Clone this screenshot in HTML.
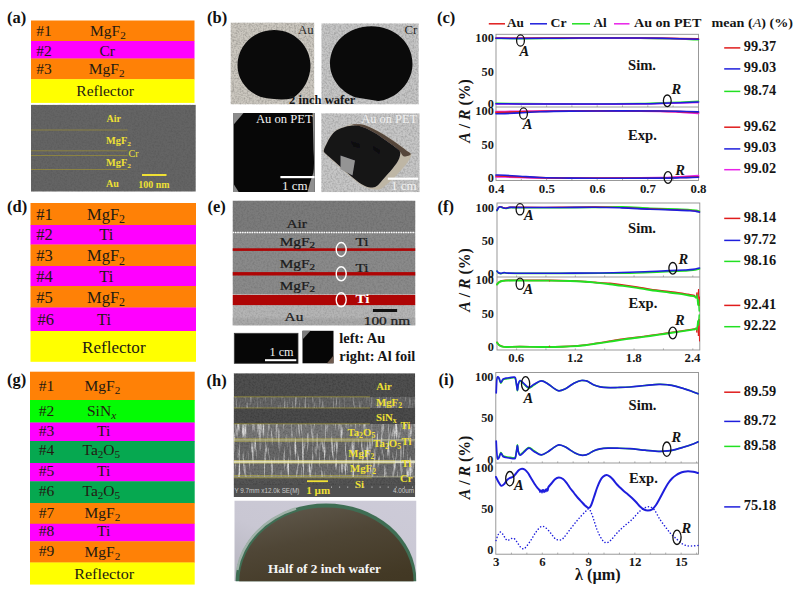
<!DOCTYPE html>
<html lang="en"><head><meta charset="utf-8"><title>Figure: multilayer absorbers</title>
<style>
html,body{margin:0;padding:0;background:#fff;}
body{width:799px;height:593px;overflow:hidden;}
#fig{width:799px;height:593px;overflow:hidden;}
svg{display:block;font-family:"Liberation Serif", "DejaVu Serif", serif;}
</style></head>
<body>
<div id="fig">
<svg width="799" height="593" viewBox="0 0 799 593">
<rect width="799" height="593" fill="#ffffff"/>
<text x="7" y="22.5" font-size="16.5" font-weight="bold" fill="#111">(a)</text>
<text x="207" y="22.5" font-size="16.5" font-weight="bold" fill="#111">(b)</text>
<text x="437" y="22.5" font-size="16.5" font-weight="bold" fill="#111">(c)</text>
<text x="7" y="211.5" font-size="16.5" font-weight="bold" fill="#111">(d)</text>
<text x="207.5" y="212" font-size="16.5" font-weight="bold" fill="#111">(e)</text>
<text x="437.5" y="212" font-size="16.5" font-weight="bold" fill="#111">(f)</text>
<text x="7" y="385" font-size="16.5" font-weight="bold" fill="#111">(g)</text>
<text x="206.5" y="385.5" font-size="16.5" font-weight="bold" fill="#111">(h)</text>
<text x="438.5" y="385" font-size="16.5" font-weight="bold" fill="#111">(i)</text>
<rect x="31" y="20.5" width="163.5" height="20.80" fill="#ff8106"/>
<rect x="31" y="41" width="163.5" height="17.80" fill="#ff00ff"/>
<rect x="31" y="58.5" width="163.5" height="21.00" fill="#ff8106"/>
<rect x="31" y="79.2" width="163.5" height="23.70" fill="#ffff00"/>
<text x="36.3" y="36.3" font-size="15.5" fill="#231a12">#1</text>
<text x="90" y="36.2" font-size="15.5" fill="#231a12">MgF<tspan dy="0.27em" font-size="72%">2</tspan></text>
<text x="36.3" y="55.5" font-size="15.5" fill="#231a12">#2</text>
<text x="99.5" y="55.5" font-size="15.5" fill="#231a12">Cr</text>
<text x="36.3" y="73.8" font-size="15.5" fill="#231a12">#3</text>
<text x="88.8" y="74" font-size="15.5" fill="#231a12">MgF<tspan dy="0.27em" font-size="72%">2</tspan></text>
<text x="76.3" y="95.5" font-size="15.5" fill="#231a12">Reflector</text>
<rect x="30.5" y="203" width="165.5" height="22.30" fill="#ff8106"/>
<rect x="30.5" y="225" width="165.5" height="19.80" fill="#ff00ff"/>
<rect x="30.5" y="244.5" width="165.5" height="21.80" fill="#ff8106"/>
<rect x="30.5" y="266" width="165.5" height="20.30" fill="#ff00ff"/>
<rect x="30.5" y="286" width="165.5" height="21.80" fill="#ff8106"/>
<rect x="30.5" y="307.5" width="165.5" height="23.80" fill="#ff00ff"/>
<rect x="30.5" y="331" width="165.5" height="30.80" fill="#ffff00"/>
<text x="36.3" y="219.5" font-size="16.5" fill="#231a12">#1</text>
<text x="87" y="219.5" font-size="16.5" fill="#231a12">MgF<tspan dy="0.27em" font-size="72%">2</tspan></text>
<text x="36.3" y="240" font-size="16.5" fill="#231a12">#2</text>
<text x="99.3" y="240" font-size="16.5" fill="#231a12">Ti</text>
<text x="36.3" y="261.3" font-size="16.5" fill="#231a12">#3</text>
<text x="87" y="261.3" font-size="16.5" fill="#231a12">MgF<tspan dy="0.27em" font-size="72%">2</tspan></text>
<text x="36.3" y="282" font-size="16.5" fill="#231a12">#4</text>
<text x="99.3" y="282" font-size="16.5" fill="#231a12">Ti</text>
<text x="36.3" y="302.5" font-size="16.5" fill="#231a12">#5</text>
<text x="87" y="302.5" font-size="16.5" fill="#231a12">MgF<tspan dy="0.27em" font-size="72%">2</tspan></text>
<text x="37.5" y="325" font-size="16.5" fill="#231a12">#6</text>
<text x="97" y="325" font-size="16.5" fill="#231a12">Ti</text>
<text x="82" y="352.5" font-size="17.1" fill="#231a12">Reflector</text>
<rect x="30" y="371.7" width="164.7" height="28.60" fill="#ff8106"/>
<rect x="30" y="400" width="164.7" height="22.80" fill="#04fb04"/>
<rect x="30" y="422.5" width="164.7" height="18.80" fill="#ff00ff"/>
<rect x="30" y="441" width="164.7" height="22.30" fill="#06a850"/>
<rect x="30" y="463" width="164.7" height="18.55" fill="#ff00ff"/>
<rect x="30" y="481.25" width="164.7" height="22.05" fill="#06a850"/>
<rect x="30" y="503" width="164.7" height="21.05" fill="#ff8106"/>
<rect x="30" y="523.75" width="164.7" height="17.80" fill="#ff00ff"/>
<rect x="30" y="541.25" width="164.7" height="21.55" fill="#ff8106"/>
<rect x="30" y="562.5" width="164.7" height="22.05" fill="#ffff00"/>
<text x="38.7" y="391.3" font-size="15.5" fill="#231a12">#1</text>
<text x="84.5" y="391" font-size="15.5" fill="#231a12">MgF<tspan dy="0.27em" font-size="72%">2</tspan></text>
<text x="38.7" y="416.3" font-size="15.5" fill="#231a12">#2</text>
<text x="87" y="416" font-size="15.5" fill="#231a12">SiN<tspan dy="0.27em" font-size="72%" font-style="italic">x</tspan></text>
<text x="38.7" y="436.3" font-size="15.5" fill="#231a12">#3</text>
<text x="97" y="436.3" font-size="15.5" fill="#231a12">Ti</text>
<text x="38.7" y="455.3" font-size="15.5" fill="#231a12">#4</text>
<text x="82.5" y="455.3" font-size="15.5" fill="#231a12">Ta<tspan dy="0.27em" font-size="72%">2</tspan><tspan dy="-0.194em">O</tspan><tspan dy="0.27em" font-size="72%">5</tspan></text>
<text x="38.7" y="476.3" font-size="15.5" fill="#231a12">#5</text>
<text x="97" y="476.3" font-size="15.5" fill="#231a12">Ti</text>
<text x="38.7" y="495.8" font-size="15.5" fill="#231a12">#6</text>
<text x="82.5" y="495.8" font-size="15.5" fill="#231a12">Ta<tspan dy="0.27em" font-size="72%">2</tspan><tspan dy="-0.194em">O</tspan><tspan dy="0.27em" font-size="72%">5</tspan></text>
<text x="38.7" y="517.5" font-size="15.5" fill="#231a12">#7</text>
<text x="84.5" y="517.5" font-size="15.5" fill="#231a12">MgF<tspan dy="0.27em" font-size="72%">2</tspan></text>
<text x="38.7" y="536.3" font-size="15.5" fill="#231a12">#8</text>
<text x="97" y="536.3" font-size="15.5" fill="#231a12">Ti</text>
<text x="38.7" y="556.3" font-size="15.5" fill="#231a12">#9</text>
<text x="84.5" y="557" font-size="15.5" fill="#231a12">MgF<tspan dy="0.27em" font-size="72%">2</tspan></text>
<text x="0" y="0" font-size="15.5" fill="#231a12" transform="translate(74.2,578.8) scale(1.04,1)">Reflector</text>
<defs>
<filter id="grain" x="0" y="0" width="100%" height="100%">
  <feTurbulence type="fractalNoise" baseFrequency="0.55" numOctaves="3" seed="3" result="n"/>
  <feColorMatrix in="n" type="matrix" values="0 0 0 0 0  0 0 0 0 0  0 0 0 0 0  2.2 0 0 0 -0.85"/>
</filter>
<filter id="grainL" x="0" y="0" width="100%" height="100%">
  <feTurbulence type="fractalNoise" baseFrequency="0.8" numOctaves="2" seed="11" result="n"/>
  <feColorMatrix in="n" type="matrix" values="0 0 0 0 1  0 0 0 0 1  0 0 0 0 1  1.6 0 0 0 -0.62"/>
</filter>
<filter id="streak" x="0" y="0" width="100%" height="100%">
  <feTurbulence type="fractalNoise" baseFrequency="0.42 0.05" numOctaves="2" seed="7" result="n"/>
  <feColorMatrix in="n" type="matrix" values="0 0 0 0 1  0 0 0 0 1  0 0 0 0 1  3.6 0 0 0 -1.85"/>
</filter>
<filter id="blur1"><feGaussianBlur stdDeviation="0.6"/></filter>
<filter id="blur2"><feGaussianBlur stdDeviation="1.2"/></filter>
<linearGradient id="waferG" x1="0" y1="0" x2="0.25" y2="1">
  <stop offset="0" stop-color="#625b4f"/><stop offset="0.3" stop-color="#4f4636"/><stop offset="0.62" stop-color="#433925"/><stop offset="1" stop-color="#3c321d"/>
</linearGradient>
<linearGradient id="waferBg" x1="0" y1="1" x2="1" y2="0">
  <stop offset="0" stop-color="#b4b3bd"/><stop offset="0.4" stop-color="#c9c7d3"/><stop offset="1" stop-color="#cdcbd8"/>
</linearGradient>
<clipPath id="cpAu"><rect x="230.5" y="22.5" width="83.8" height="82"/></clipPath>
<clipPath id="cpCr"><rect x="321.3" y="23.3" width="97.5" height="81.2"/></clipPath>
<clipPath id="cpP3"><rect x="233.3" y="113" width="81.5" height="79"/></clipPath>
<clipPath id="cpP4"><rect x="321.2" y="113.2" width="98.5" height="79"/></clipPath>
<clipPath id="cpW"><rect x="234.3" y="500.5" width="182.2" height="80.8"/></clipPath>
<clipPath id="cpH"><rect x="233.7" y="373.2" width="181.5" height="123.8"/></clipPath>
<clipPath id="cpE"><rect x="232.5" y="200.5" width="183" height="125"/></clipPath>
</defs>
<rect x="31" y="104.9" width="164.7" height="86.6" fill="#646464"/>
<rect x="31" y="104.9" width="164.7" height="86.6" fill="#000" opacity="0.08" filter="url(#grain)"/>
<line x1="31" y1="130" x2="127.5" y2="130" stroke="#a8982e" stroke-width="0.6"/>
<line x1="31" y1="150.8" x2="127.5" y2="150.8" stroke="#a8982e" stroke-width="0.6"/>
<line x1="31" y1="155.5" x2="127.5" y2="155.5" stroke="#a8982e" stroke-width="0.6"/>
<line x1="31" y1="169.5" x2="127.5" y2="169.5" stroke="#a8982e" stroke-width="0.6"/>
<text x="0" y="0" font-size="9.4" font-weight="bold" fill="#efe034" transform="translate(106.5,122) scale(1.07,1)">Air</text>
<text x="0" y="0" font-size="9.4" font-weight="bold" fill="#efe034" transform="translate(106,143.8) scale(1.1,1)">MgF<tspan dy="0.27em" font-size="72%">2</tspan></text>
<text x="128.5" y="157" font-size="10" fill="#efe034">Cr</text>
<text x="0" y="0" font-size="9.4" font-weight="bold" fill="#efe034" transform="translate(106,165.8) scale(1.1,1)">MgF<tspan dy="0.27em" font-size="72%">2</tspan></text>
<text x="0" y="0" font-size="9.4" font-weight="bold" fill="#efe034" transform="translate(106,187) scale(1.07,1)">Au</text>
<rect x="142" y="174" width="24.5" height="2" fill="#efe034"/>
<text x="0" y="0" font-size="9.4" font-weight="bold" fill="#efe034" transform="translate(138.3,187.5) scale(1.06,1)">100 nm</text>
<g clip-path="url(#cpAu)">
<rect x="230.5" y="22.5" width="84" height="82" fill="#cbc7bf"/>
<rect x="230.5" y="22.5" width="84" height="82" fill="#000" opacity="0.2" filter="url(#grain)"/>
<path d="M274,30 C294.5,30 310.5,46 310.5,65.5 C310.5,79 303,91.5 292.5,98.2 Q284,100.2 274,99 Q263,98.3 258,95.8 C245.5,90 237.5,78.5 237.5,65.5 C237.5,46 253.5,30 274,30z" fill="#0a0a0a"/>
</g>
<text x="298" y="33.8" font-size="12.8" fill="#2a2a2a">Au</text>
<g clip-path="url(#cpCr)">
<rect x="321.3" y="23.3" width="97.5" height="81.2" fill="#c5c5c5"/>
<rect x="321.3" y="23.3" width="97.5" height="81.2" fill="#000" opacity="0.17" filter="url(#grain)"/>
<path d="M371.3,26.3 C395,26.3 412.5,43 412.5,63.8 C412.5,79 402.5,92.5 388,98.6 Q383,101.2 378,101 L355,97.3 C340.5,91.5 330,78.5 330,63.8 C330,43 347.5,26.3 371.3,26.3z" fill="#0a0a0a"/>
</g>
<text x="404.5" y="33.8" font-size="12.8" fill="#2a2a2a">Cr</text>
<text x="289" y="103.6" font-size="12.6" font-weight="bold" fill="#161616">2 inch wafer</text>
<g clip-path="url(#cpP3)">
<rect x="233.3" y="113" width="81.5" height="79" fill="#070707"/>
<path d="M233.3,113 L243.5,113 L233.3,125z" fill="#8c8c8c"/>
<path d="M233.3,183.5 L238.7,192 L233.3,192z" fill="#8a8a8a"/>
<path d="M312.6,113 L314.8,113 L314.8,192 L307.5,192 Q309.5,183 313.3,173 Q314.6,165 313.5,150z" fill="#8e8e8e"/>
</g>
<text x="256" y="123.2" font-size="12.6" fill="#f4f4f4">Au on PET</text>
<rect x="280.4" y="176" width="34.2" height="2.2" fill="#fff"/>
<text x="282" y="190" font-size="13" fill="#f2f2f2">1 cm</text>
<g clip-path="url(#cpP4)">
<rect x="321.2" y="113.2" width="98.5" height="79" fill="#c6c6c6"/>
<rect x="321.2" y="113.2" width="98.5" height="79" fill="#000" opacity="0.16" filter="url(#grain)"/>
<g filter="url(#blur1)">
<path d="M323.30,150.50 C323.45,148.57 325.38,145.45 326.60,143.00 C327.82,140.55 329.03,137.97 330.60,135.80 C332.17,133.63 333.60,131.57 336.00,130.00 C338.40,128.43 342.33,127.35 345.00,126.40 C347.67,125.45 349.17,124.65 352.00,124.30 C354.83,123.95 358.67,123.68 362.00,124.30 C365.33,124.92 368.33,126.30 372.00,128.00 C375.67,129.70 380.00,132.08 384.00,134.50 C388.00,136.92 392.33,139.92 396.00,142.50 C399.67,145.08 403.45,148.03 406.00,150.00 C408.55,151.97 410.80,152.63 411.30,154.30 C411.80,155.97 410.05,158.13 409.00,160.00 C407.95,161.87 406.67,163.42 405.00,165.50 C403.33,167.58 401.08,170.20 399.00,172.50 C396.92,174.80 394.67,177.22 392.50,179.30 C390.33,181.38 388.08,183.33 386.00,185.00 C383.92,186.67 382.17,188.60 380.00,189.30 C377.83,190.00 375.50,189.60 373.00,189.20 C370.50,188.80 367.72,188.13 365.00,186.90 C362.28,185.67 360.08,184.32 356.70,181.80 C353.32,179.28 348.53,175.13 344.70,171.80 C340.87,168.47 336.87,164.67 333.70,161.80 C330.53,158.93 327.43,156.48 325.70,154.60 C323.97,152.72 323.15,152.43 323.30,150.50z" fill="#beb6a5"/>
<path d="M352.00,124.60 C353.17,124.43 358.67,124.00 362.00,124.60 C365.33,125.20 368.33,126.50 372.00,128.20 C375.67,129.90 380.00,132.37 384.00,134.80 C388.00,137.23 392.33,140.23 396.00,142.80 C399.67,145.37 403.53,148.30 406.00,150.20 C408.47,152.10 411.13,153.15 410.80,154.20 C410.47,155.25 405.80,156.90 404.00,156.50 C402.20,156.10 401.50,153.38 400.00,151.80 C398.50,150.22 397.33,148.88 395.00,147.00 C392.67,145.12 389.33,142.83 386.00,140.50 C382.67,138.17 378.67,135.17 375.00,133.00 C371.33,130.83 367.33,128.73 364.00,127.50 C360.67,126.27 357.00,126.08 355.00,125.60 C353.00,125.12 350.83,124.77 352.00,124.60z" fill="#56463a"/>
<path d="M323.80,150.50 C323.97,148.67 325.80,145.42 327.00,143.00 C328.20,140.58 329.45,138.08 331.00,136.00 C332.55,133.92 333.97,132.00 336.30,130.50 C338.63,129.00 341.88,127.82 345.00,127.00 C348.12,126.18 351.83,125.50 355.00,125.60 C358.17,125.70 360.67,126.35 364.00,127.60 C367.33,128.85 371.33,130.93 375.00,133.10 C378.67,135.27 382.67,138.27 386.00,140.60 C389.33,142.93 392.67,145.23 395.00,147.10 C397.33,148.97 399.23,150.15 400.00,151.80 C400.77,153.45 400.02,155.33 399.60,157.00 C399.18,158.67 398.60,159.97 397.50,161.80 C396.40,163.63 394.67,165.92 393.00,168.00 C391.33,170.08 389.33,172.22 387.50,174.30 C385.67,176.38 383.67,178.63 382.00,180.50 C380.33,182.37 379.08,184.33 377.50,185.50 C375.92,186.67 374.58,187.42 372.50,187.50 C370.42,187.58 367.58,187.08 365.00,186.00 C362.42,184.92 360.33,183.50 357.00,181.00 C353.67,178.50 348.83,174.33 345.00,171.00 C341.17,167.67 337.17,163.83 334.00,161.00 C330.83,158.17 327.70,155.75 326.00,154.00 C324.30,152.25 323.63,152.33 323.80,150.50z" fill="#131219"/>
<path d="M340.5,155.5 L355,160.5 L352.5,175.5 L340.5,169.3z" fill="#949494"/>
<path d="M351,141.5 L359,144 L360,147.5 L354,146.8z" fill="#000" opacity="0.55"/>
<path d="M373,146 L380,150.5 L379,153.5 L374,150z" fill="#000" opacity="0.45"/>
</g>
</g>
<text x="361.3" y="123.2" font-size="12.4" fill="#f0f0f0">Au on PET</text>
<rect x="387.8" y="177.6" width="30.4" height="2.2" fill="#fff"/>
<text x="391" y="190" font-size="13" fill="#f2f2f2">1 cm</text>
<g clip-path="url(#cpE)">
<rect x="232.5" y="200.5" width="183" height="32" fill="#7b7b7b"/>
<rect x="232.5" y="232.5" width="183" height="62" fill="#8a8a8a"/>
<rect x="232.5" y="304.5" width="183" height="21" fill="#b4b4b4"/>
<rect x="232.5" y="318" width="183" height="8" fill="#a8a8a8" filter="url(#blur2)"/>
<rect x="232.5" y="200.5" width="183" height="125" fill="#000" opacity="0.10" filter="url(#grain)"/>
<rect x="232.5" y="248.3" width="183" height="2.6" fill="#ae0404"/>
<rect x="232.5" y="272.1" width="183" height="3.4" fill="#ae0404"/>
<rect x="232.5" y="294.9" width="183" height="10.2" fill="#ae0404"/>
<line x1="232.5" y1="232.5" x2="415.5" y2="232.5" stroke="#fff" stroke-width="1.5" stroke-dasharray="1.4 1.0"/>
</g>
<ellipse cx="341.2" cy="249.5" rx="5" ry="7" fill="none" stroke="#fff" stroke-width="1.4"/>
<ellipse cx="341.2" cy="273.8" rx="5" ry="7" fill="none" stroke="#fff" stroke-width="1.4"/>
<ellipse cx="341.2" cy="299.8" rx="5" ry="7" fill="none" stroke="#fff" stroke-width="1.4"/>
<text x="0" y="0" font-size="12.2" fill="#1c1c1c" stroke="#1c1c1c" stroke-width="0.25" transform="translate(286.5,227.6) scale(1.26,1)">Air</text>
<text x="0" y="0" font-size="12.2" fill="#1c1c1c" stroke="#1c1c1c" stroke-width="0.25" transform="translate(279.7,246) scale(1.26,1)">MgF<tspan dy="0.27em" font-size="72%">2</tspan></text>
<text x="0" y="0" font-size="12.2" fill="#1c1c1c" stroke="#1c1c1c" stroke-width="0.25" transform="translate(355.4,246.4) scale(1.26,1)">Ti</text>
<text x="0" y="0" font-size="12.2" fill="#1c1c1c" stroke="#1c1c1c" stroke-width="0.25" transform="translate(279.7,267.8) scale(1.26,1)">MgF<tspan dy="0.27em" font-size="72%">2</tspan></text>
<text x="0" y="0" font-size="12.2" fill="#1c1c1c" stroke="#1c1c1c" stroke-width="0.25" transform="translate(355.4,271.7) scale(1.26,1)">Ti</text>
<text x="0" y="0" font-size="12.2" fill="#1c1c1c" stroke="#1c1c1c" stroke-width="0.25" transform="translate(279.7,289.7) scale(1.26,1)">MgF<tspan dy="0.27em" font-size="72%">2</tspan></text>
<text x="0" y="0" font-size="12.2" font-weight="bold" fill="#fff" transform="translate(355.4,302.7) scale(1.26,1)">Ti</text>
<text x="0" y="0" font-size="12.2" fill="#1c1c1c" stroke="#1c1c1c" stroke-width="0.25" transform="translate(284.6,320.8) scale(1.26,1)">Au</text>
<rect x="372.9" y="309" width="24.2" height="3" fill="#111"/>
<text x="0" y="0" font-size="12.2" fill="#1c1c1c" stroke="#1c1c1c" stroke-width="0.25" transform="translate(363.7,324.6) scale(1.26,1)">100 nm</text>
<rect x="234.3" y="333.3" width="63.7" height="30" fill="#060606"/>
<rect x="234.3" y="333.3" width="63.7" height="30" fill="none" stroke="#3a3a3a" stroke-width="0.8"/>
<rect x="265" y="359.2" width="31.3" height="2" fill="#fff"/>
<text x="269.5" y="355.5" font-size="12.2" fill="#f0f0f0">1 cm</text>
<rect x="302.5" y="330.8" width="31" height="32.5" fill="#060606"/>
<path d="M302.5,330.8 L310.5,330.8 L302.5,339.5z" fill="#7c7c7c"/>
<path d="M333.5,355.5 L333.5,363.3 L327,363.3z" fill="#6e5a4e"/>
<text x="339.3" y="343.3" font-size="14.4" font-weight="bold" fill="#151515">left: Au</text>
<text x="339.3" y="360.8" font-size="14.4" font-weight="bold" fill="#151515">right: Al foil</text>
<g clip-path="url(#cpH)">
<rect x="233.7" y="373.2" width="181.5" height="123.8" fill="#4f4f4f"/>
<rect x="233.7" y="397" width="181.5" height="11" fill="#656565"/>
<rect x="233.7" y="408" width="181.5" height="16" fill="#4b4b4b"/>
<rect x="233.7" y="424" width="181.5" height="16" fill="#777777"/>
<rect x="233.7" y="440" width="181.5" height="22" fill="#686868"/>
<rect x="233.7" y="462" width="181.5" height="15" fill="#6e6e6e"/>
<rect x="233.7" y="477" width="181.5" height="7.5" fill="#555555"/>
<rect x="233.7" y="484.5" width="181.5" height="12.5" fill="#505050"/>
<rect x="233.7" y="397" width="181.5" height="11" fill="#fff" opacity="0.4" filter="url(#streak)"/>
<rect x="233.7" y="424" width="181.5" height="53" fill="#fff" opacity="0.75" filter="url(#streak)"/>
<rect x="233.7" y="373.2" width="181.5" height="111" fill="#000" opacity="0.18" filter="url(#grain)"/>
<rect x="233.7" y="439" width="181.5" height="2.4" fill="#c9c9a0" opacity="0.5" filter="url(#blur1)"/>
<rect x="233.7" y="460.4" width="181.5" height="2.8" fill="#efefcf" opacity="0.85" filter="url(#blur1)"/>
<rect x="233.7" y="475.8" width="181.5" height="1.8" fill="#bdbd98" opacity="0.45" filter="url(#blur1)"/>
<line x1="233.7" y1="396.8" x2="370" y2="396.8" stroke="#cfc030" stroke-width="0.55" opacity="0.85"/>
<line x1="233.7" y1="408" x2="370" y2="408" stroke="#cfc030" stroke-width="0.55" opacity="0.85"/>
<line x1="233.7" y1="423.8" x2="370" y2="423.8" stroke="#cfc030" stroke-width="0.55" opacity="0.85"/>
<line x1="233.7" y1="438.8" x2="372" y2="438.8" stroke="#cfc030" stroke-width="0.55" opacity="0.85"/>
<line x1="233.7" y1="441.2" x2="372" y2="441.2" stroke="#cfc030" stroke-width="0.55" opacity="0.85"/>
<line x1="233.7" y1="460.4" x2="395" y2="460.4" stroke="#cfc030" stroke-width="0.55" opacity="0.85"/>
<line x1="233.7" y1="463" x2="395" y2="463" stroke="#cfc030" stroke-width="0.55" opacity="0.85"/>
<line x1="233.7" y1="475.6" x2="372" y2="475.6" stroke="#cfc030" stroke-width="0.55" opacity="0.85"/>
<line x1="233.7" y1="477.8" x2="372" y2="477.8" stroke="#cfc030" stroke-width="0.55" opacity="0.85"/>
</g>
<text x="376.3" y="390" font-size="10.8" font-weight="bold" fill="#efe034">Air</text>
<text x="376" y="405.8" font-size="10.8" font-weight="bold" fill="#efe034">MgF<tspan dy="0.27em" font-size="72%">2</tspan></text>
<text x="376" y="420.5" font-size="10.8" font-weight="bold" fill="#efe034">SiN<tspan dy="0.27em" font-size="72%">x</tspan></text>
<text x="400.5" y="429.3" font-size="10.8" font-weight="bold" fill="#efe034">Ti</text>
<text x="347.5" y="436.3" font-size="10.8" font-weight="bold" fill="#efe034">Ta<tspan dy="0.27em" font-size="72%">2</tspan><tspan dy="-0.194em">O</tspan><tspan dy="0.27em" font-size="72%">5</tspan></text>
<text x="373.3" y="447" font-size="10.8" font-weight="bold" fill="#efe034">Ta<tspan dy="0.27em" font-size="72%">2</tspan><tspan dy="-0.194em">O</tspan><tspan dy="0.27em" font-size="72%">5</tspan></text>
<text x="401.5" y="444.5" font-size="10.8" font-weight="bold" fill="#efe034">Ti</text>
<text x="348.3" y="456.8" font-size="10.8" font-weight="bold" fill="#efe034">MgF<tspan dy="0.27em" font-size="72%">2</tspan></text>
<text x="401.5" y="467" font-size="10.8" font-weight="bold" fill="#efe034">Ti</text>
<text x="350" y="472" font-size="10.8" font-weight="bold" fill="#efe034">MgF<tspan dy="0.27em" font-size="72%">2</tspan></text>
<text x="400" y="482" font-size="10.8" font-weight="bold" fill="#efe034">Cr</text>
<text x="355" y="488.3" font-size="10.8" font-weight="bold" fill="#efe034">Si</text>
<rect x="307" y="480.3" width="21" height="1.8" fill="#efe034"/>
<text x="306.3" y="493.8" font-size="11" font-weight="bold" fill="#efe034">1 µm</text>
<text x="234.5" y="493.3" font-size="6.3" font-family='"Liberation Sans", "DejaVu Sans", sans-serif' fill="#c8c8c8">Y 9.7mm x12.0k SE(M)</text>
<text x="414" y="493.3" font-size="6.3" text-anchor="end" font-family='"Liberation Sans", "DejaVu Sans", sans-serif' fill="#c8c8c8">4.00um</text>
<rect x="331.0" y="486.6" width="1" height="1" fill="#d0d0d0"/>
<rect x="339.1" y="486.6" width="1" height="1" fill="#d0d0d0"/>
<rect x="347.2" y="486.6" width="1" height="1" fill="#d0d0d0"/>
<rect x="355.3" y="486.6" width="1" height="1" fill="#d0d0d0"/>
<rect x="363.4" y="486.6" width="1" height="1" fill="#d0d0d0"/>
<rect x="371.5" y="486.6" width="1" height="1" fill="#d0d0d0"/>
<rect x="379.6" y="486.6" width="1" height="1" fill="#d0d0d0"/>
<rect x="387.7" y="486.6" width="1" height="1" fill="#d0d0d0"/>
<rect x="395.8" y="486.6" width="1" height="1" fill="#d0d0d0"/>
<rect x="403.9" y="486.6" width="1" height="1" fill="#d0d0d0"/>
<rect x="412.0" y="486.6" width="1" height="1" fill="#d0d0d0"/>
<g clip-path="url(#cpW)">
<rect x="234.3" y="500.5" width="182.2" height="80.8" fill="url(#waferBg)"/>
<ellipse cx="326" cy="580.5" rx="90.3" ry="77" fill="#3f6e54"/>
<path d="M237.2,570 A90.3,77 0 0 1 296,508.5" fill="none" stroke="#9fb1a8" stroke-width="2.6"/>
<ellipse cx="326.4" cy="582" rx="87.2" ry="74.6" fill="url(#waferG)"/>
</g>
<text x="268" y="572.5" font-size="13.3" font-weight="bold" fill="#f6f6f6">Half of 2 inch wafer</text>
<line x1="488.8" y1="23.8" x2="505" y2="23.8" stroke="#e01c1c" stroke-width="1.5"/>
<line x1="530" y1="23.8" x2="547" y2="23.8" stroke="#1e1edc" stroke-width="1.5"/>
<line x1="572" y1="23.8" x2="590" y2="23.8" stroke="#22e022" stroke-width="1.5"/>
<line x1="614" y1="23.8" x2="629.5" y2="23.8" stroke="#e822e8" stroke-width="1.5"/>
<text x="507" y="27.3" font-size="13.2" font-weight="bold" fill="#151515">Au</text>
<text x="0" y="0" font-size="13.2" font-weight="bold" fill="#151515" transform="translate(550.5,27.3) scale(1.04,1)">Cr</text>
<text x="593.6" y="27.3" font-size="13.2" font-weight="bold" fill="#151515">Al</text>
<text x="0" y="0" font-size="13.2" font-weight="bold" fill="#151515" transform="translate(634,27.3) scale(1.07,1)">Au on PET</text>
<text x="0" y="0" font-size="13.2" font-weight="bold" fill="#151515" transform="translate(711.5,27.3) scale(1.07,1)">mean (<tspan font-style="italic" font-weight="normal">A</tspan>) (%)</text>
<rect x="496" y="34.3" width="202.5" height="146.2" fill="none" stroke="#8e8e8e" stroke-width="0.9"/>
<line x1="496" y1="107" x2="698.5" y2="107" stroke="#8e8e8e" stroke-width="0.9"/>
<path d="M496.00,38.40 C500.00,38.43 509.33,38.60 520.00,38.60 C530.67,38.60 546.67,38.47 560.00,38.40 C573.33,38.33 586.67,38.22 600.00,38.20 C613.33,38.18 628.33,38.20 640.00,38.30 C651.67,38.40 660.25,38.55 670.00,38.80 C679.75,39.05 693.75,39.63 698.50,39.80" fill="none" stroke="#22e022" stroke-width="1.6" stroke-linejoin="round" stroke-linecap="round"/>
<path d="M496.00,38.00 C500.00,38.05 509.33,38.28 520.00,38.30 C530.67,38.32 546.67,38.15 560.00,38.10 C573.33,38.05 586.67,38.00 600.00,38.00 C613.33,38.00 628.33,38.02 640.00,38.10 C651.67,38.18 660.25,38.32 670.00,38.50 C679.75,38.68 693.75,39.08 698.50,39.20" fill="none" stroke="#e822e8" stroke-width="1.6" stroke-linejoin="round" stroke-linecap="round"/>
<path d="M496.00,38.10 C500.00,38.12 509.33,38.22 520.00,38.20 C530.67,38.18 546.67,38.05 560.00,38.00 C573.33,37.95 586.67,37.90 600.00,37.90 C613.33,37.90 628.33,37.93 640.00,38.00 C651.67,38.07 660.25,38.17 670.00,38.30 C679.75,38.43 693.75,38.72 698.50,38.80" fill="none" stroke="#e01c1c" stroke-width="1.4" stroke-linejoin="round" stroke-linecap="round"/>
<path d="M496.00,38.30 C500.00,38.33 509.33,38.52 520.00,38.50 C530.67,38.48 546.67,38.28 560.00,38.20 C573.33,38.12 586.67,38.02 600.00,38.00 C613.33,37.98 628.33,38.02 640.00,38.10 C651.67,38.18 660.25,38.32 670.00,38.50 C679.75,38.68 693.75,39.08 698.50,39.20" fill="none" stroke="#1e1edc" stroke-width="1.5" stroke-linejoin="round" stroke-linecap="round"/>
<path d="M496.00,103.30 C500.00,103.35 509.33,103.50 520.00,103.60 C530.67,103.70 546.67,103.83 560.00,103.90 C573.33,103.97 586.67,104.05 600.00,104.00 C613.33,103.95 628.33,103.83 640.00,103.60 C651.67,103.37 660.25,102.97 670.00,102.60 C679.75,102.23 693.75,101.60 698.50,101.40" fill="none" stroke="#22e022" stroke-width="1.6" stroke-linejoin="round" stroke-linecap="round"/>
<path d="M496.00,104.10 C500.00,104.08 509.33,104.00 520.00,104.00 C530.67,104.00 546.67,104.07 560.00,104.10 C573.33,104.13 586.67,104.22 600.00,104.20 C613.33,104.18 628.33,104.15 640.00,104.00 C651.67,103.85 660.25,103.53 670.00,103.30 C679.75,103.07 693.75,102.72 698.50,102.60" fill="none" stroke="#e822e8" stroke-width="1.5" stroke-linejoin="round" stroke-linecap="round"/>
<path d="M496.00,103.80 C500.00,103.82 509.33,103.87 520.00,103.90 C530.67,103.93 546.67,103.97 560.00,104.00 C573.33,104.03 586.67,104.13 600.00,104.10 C613.33,104.07 628.33,103.98 640.00,103.80 C651.67,103.62 660.25,103.30 670.00,103.00 C679.75,102.70 693.75,102.17 698.50,102.00" fill="none" stroke="#1e1edc" stroke-width="1.5" stroke-linejoin="round" stroke-linecap="round"/>
<path d="M496.00,111.60 C497.50,111.58 501.00,111.55 505.00,111.50 C509.00,111.45 514.17,111.37 520.00,111.30 C525.83,111.23 531.67,111.17 540.00,111.10 C548.33,111.03 556.67,110.95 570.00,110.90 C583.33,110.85 605.00,110.73 620.00,110.80 C635.00,110.87 650.00,111.07 660.00,111.30 C670.00,111.53 673.58,111.85 680.00,112.20 C686.42,112.55 695.42,113.20 698.50,113.40" fill="none" stroke="#e822e8" stroke-width="1.7" stroke-linejoin="round" stroke-linecap="round"/>
<path d="M496.00,112.40 C497.50,112.38 501.00,112.38 505.00,112.30 C509.00,112.22 514.17,112.07 520.00,111.90 C525.83,111.73 531.67,111.45 540.00,111.30 C548.33,111.15 556.67,111.07 570.00,111.00 C583.33,110.93 605.00,110.88 620.00,110.90 C635.00,110.92 650.00,110.98 660.00,111.10 C670.00,111.22 673.58,111.40 680.00,111.60 C686.42,111.80 695.42,112.18 698.50,112.30" fill="none" stroke="#e01c1c" stroke-width="1.7" stroke-linejoin="round" stroke-linecap="round"/>
<path d="M496.00,113.80 C497.50,113.77 501.00,113.75 505.00,113.60 C509.00,113.45 514.17,113.22 520.00,112.90 C525.83,112.58 531.67,112.00 540.00,111.70 C548.33,111.40 556.67,111.23 570.00,111.10 C583.33,110.97 605.00,110.92 620.00,110.90 C635.00,110.88 650.00,110.92 660.00,111.00 C670.00,111.08 673.58,111.25 680.00,111.40 C686.42,111.55 695.42,111.82 698.50,111.90" fill="none" stroke="#1e1edc" stroke-width="1.6" stroke-linejoin="round" stroke-linecap="round"/>
<path d="M496.00,177.00 C497.50,177.00 501.00,176.93 505.00,177.00 C509.00,177.07 514.17,177.25 520.00,177.40 C525.83,177.55 531.67,177.77 540.00,177.90 C548.33,178.03 556.67,178.15 570.00,178.20 C583.33,178.25 605.00,178.28 620.00,178.20 C635.00,178.12 650.00,177.93 660.00,177.70 C670.00,177.47 673.58,177.13 680.00,176.80 C686.42,176.47 695.42,175.88 698.50,175.70" fill="none" stroke="#e822e8" stroke-width="1.7" stroke-linejoin="round" stroke-linecap="round"/>
<path d="M496.00,176.00 C497.50,176.03 501.00,176.05 505.00,176.20 C509.00,176.35 514.17,176.65 520.00,176.90 C525.83,177.15 531.67,177.50 540.00,177.70 C548.33,177.90 556.67,178.02 570.00,178.10 C583.33,178.18 605.00,178.22 620.00,178.20 C635.00,178.18 650.00,178.12 660.00,178.00 C670.00,177.88 673.58,177.68 680.00,177.50 C686.42,177.32 695.42,177.00 698.50,176.90" fill="none" stroke="#e01c1c" stroke-width="1.7" stroke-linejoin="round" stroke-linecap="round"/>
<path d="M496.00,175.00 C497.50,175.05 501.00,175.10 505.00,175.30 C509.00,175.50 514.17,175.83 520.00,176.20 C525.83,176.57 531.67,177.18 540.00,177.50 C548.33,177.82 556.67,177.98 570.00,178.10 C583.33,178.22 605.00,178.20 620.00,178.20 C635.00,178.20 650.00,178.17 660.00,178.10 C670.00,178.03 673.58,177.93 680.00,177.80 C686.42,177.67 695.42,177.38 698.50,177.30" fill="none" stroke="#1e1edc" stroke-width="1.6" stroke-linejoin="round" stroke-linecap="round"/>
<line x1="521.30" y1="107" x2="521.30" y2="105.4" stroke="#8e8e8e" stroke-width="0.7"/>
<line x1="546.60" y1="107" x2="546.60" y2="105.4" stroke="#8e8e8e" stroke-width="0.7"/>
<line x1="571.90" y1="107" x2="571.90" y2="105.4" stroke="#8e8e8e" stroke-width="0.7"/>
<line x1="597.20" y1="107" x2="597.20" y2="105.4" stroke="#8e8e8e" stroke-width="0.7"/>
<line x1="622.50" y1="107" x2="622.50" y2="105.4" stroke="#8e8e8e" stroke-width="0.7"/>
<line x1="647.80" y1="107" x2="647.80" y2="105.4" stroke="#8e8e8e" stroke-width="0.7"/>
<line x1="673.10" y1="107" x2="673.10" y2="105.4" stroke="#8e8e8e" stroke-width="0.7"/>
<line x1="521.30" y1="180.5" x2="521.30" y2="178.9" stroke="#8e8e8e" stroke-width="0.7"/>
<line x1="546.60" y1="180.5" x2="546.60" y2="178.9" stroke="#8e8e8e" stroke-width="0.7"/>
<line x1="571.90" y1="180.5" x2="571.90" y2="178.9" stroke="#8e8e8e" stroke-width="0.7"/>
<line x1="597.20" y1="180.5" x2="597.20" y2="178.9" stroke="#8e8e8e" stroke-width="0.7"/>
<line x1="622.50" y1="180.5" x2="622.50" y2="178.9" stroke="#8e8e8e" stroke-width="0.7"/>
<line x1="647.80" y1="180.5" x2="647.80" y2="178.9" stroke="#8e8e8e" stroke-width="0.7"/>
<line x1="673.10" y1="180.5" x2="673.10" y2="178.9" stroke="#8e8e8e" stroke-width="0.7"/>
<text x="493.8" y="41.6" font-size="12.3" font-weight="bold" text-anchor="end" fill="#181818">100</text>
<text x="493.8" y="75.8" font-size="12.3" font-weight="bold" text-anchor="end" fill="#181818">50</text>
<text x="493.8" y="108.3" font-size="12.3" font-weight="bold" text-anchor="end" fill="#181818">0</text>
<text x="493.8" y="114.6" font-size="12.3" font-weight="bold" text-anchor="end" fill="#181818">100</text>
<text x="493.8" y="148.6" font-size="12.3" font-weight="bold" text-anchor="end" fill="#181818">50</text>
<text x="493.8" y="181.8" font-size="12.3" font-weight="bold" text-anchor="end" fill="#181818">0</text>
<text x="496.3" y="192.8" font-size="12.8" font-weight="bold" text-anchor="middle" fill="#181818">0.4</text>
<text x="546.85" y="192.8" font-size="12.8" font-weight="bold" text-anchor="middle" fill="#181818">0.5</text>
<text x="597.4" y="192.8" font-size="12.8" font-weight="bold" text-anchor="middle" fill="#181818">0.6</text>
<text x="647.95" y="192.8" font-size="12.8" font-weight="bold" text-anchor="middle" fill="#181818">0.7</text>
<text x="698.5" y="192.8" font-size="12.8" font-weight="bold" text-anchor="middle" fill="#181818">0.8</text>
<ellipse cx="520.5" cy="40.5" rx="3.9" ry="5.6" fill="none" stroke="#111" stroke-width="1.3"/>
<text x="519.4" y="56.2" font-size="14.5" font-weight="bold" font-style="italic" fill="#151515">A</text>
<ellipse cx="523.5" cy="113.5" rx="3.9" ry="5.6" fill="none" stroke="#111" stroke-width="1.3"/>
<text x="522.8" y="129.2" font-size="14.5" font-weight="bold" font-style="italic" fill="#151515">A</text>
<ellipse cx="667.3" cy="100.8" rx="3.9" ry="5.8" fill="none" stroke="#111" stroke-width="1.3"/>
<text x="671.5" y="93.8" font-size="14.5" font-weight="bold" font-style="italic" fill="#151515">R</text>
<ellipse cx="668" cy="177.5" rx="3.9" ry="5.8" fill="none" stroke="#111" stroke-width="1.3"/>
<text x="675.3" y="174.8" font-size="14.5" font-weight="bold" font-style="italic" fill="#151515">R</text>
<text x="0" y="0" font-size="14.2" font-weight="bold" fill="#151515" transform="translate(628.0,69.5) scale(1.03,1)">Sim.</text>
<text x="0" y="0" font-size="14.2" font-weight="bold" fill="#151515" transform="translate(628.0,139.5) scale(1.03,1)">Exp.</text>
<text transform="translate(469.5,111) rotate(-90)" font-size="15.8" font-weight="bold" text-anchor="middle" fill="#151515"><tspan font-style="italic">A</tspan> / <tspan font-style="italic">R</tspan> (%)</text>
<line x1="724.2" y1="47.9" x2="740.3" y2="47.9" stroke="#e01c1c" stroke-width="1.5"/>
<text x="0" y="0" font-size="14.1" font-weight="bold" fill="#151515" transform="translate(743.8,51.4) scale(1.02,1)">99.37</text>
<line x1="724.2" y1="68.9" x2="740.3" y2="68.9" stroke="#1e1edc" stroke-width="1.5"/>
<text x="0" y="0" font-size="14.1" font-weight="bold" fill="#151515" transform="translate(743.8,72.4) scale(1.02,1)">99.03</text>
<line x1="724.2" y1="91.4" x2="740.3" y2="91.4" stroke="#22e022" stroke-width="1.5"/>
<text x="0" y="0" font-size="14.1" font-weight="bold" fill="#151515" transform="translate(743.8,94.9) scale(1.02,1)">98.74</text>
<line x1="724.2" y1="127.2" x2="740.3" y2="127.2" stroke="#e01c1c" stroke-width="1.5"/>
<text x="0" y="0" font-size="14.1" font-weight="bold" fill="#151515" transform="translate(743.8,130.7) scale(1.02,1)">99.62</text>
<line x1="724.2" y1="148.9" x2="740.3" y2="148.9" stroke="#1e1edc" stroke-width="1.5"/>
<text x="0" y="0" font-size="14.1" font-weight="bold" fill="#151515" transform="translate(743.8,152.4) scale(1.02,1)">99.03</text>
<line x1="724.2" y1="169.70000000000002" x2="740.3" y2="169.70000000000002" stroke="#e822e8" stroke-width="1.5"/>
<text x="0" y="0" font-size="14.1" font-weight="bold" fill="#151515" transform="translate(743.8,173.2) scale(1.02,1)">99.02</text>
<rect x="497" y="203" width="202.79999999999995" height="147" fill="none" stroke="#8e8e8e" stroke-width="0.9"/>
<line x1="497" y1="277" x2="699.8" y2="277" stroke="#8e8e8e" stroke-width="0.9"/>
<path d="M497.00,210.70 C497.25,210.22 497.92,208.42 498.50,207.80 C499.08,207.18 499.75,206.97 500.50,207.00 C501.25,207.03 502.08,207.75 503.00,208.00 C503.92,208.25 504.83,208.57 506.00,208.50 C507.17,208.43 507.67,207.73 510.00,207.60 C512.33,207.47 511.67,207.68 520.00,207.70 C528.33,207.72 547.50,207.75 560.00,207.70 C572.50,207.65 584.67,207.53 595.00,207.40 C605.33,207.27 612.83,206.77 622.00,206.90 C631.17,207.03 640.83,207.83 650.00,208.20 C659.17,208.57 670.33,208.85 677.00,209.10 C683.67,209.35 686.83,209.48 690.00,209.70 C693.17,209.92 694.42,210.15 696.00,210.40 C697.58,210.65 698.92,211.07 699.50,211.20" fill="none" stroke="#22e022" stroke-width="1.6" stroke-linejoin="round" stroke-linecap="round"/>
<path d="M497.00,210.20 C497.25,209.72 497.92,207.92 498.50,207.30 C499.08,206.68 499.75,206.47 500.50,206.50 C501.25,206.53 502.08,207.25 503.00,207.50 C503.92,207.75 504.83,208.07 506.00,208.00 C507.17,207.93 507.67,207.23 510.00,207.10 C512.33,206.97 511.67,207.18 520.00,207.20 C528.33,207.22 547.50,207.25 560.00,207.20 C572.50,207.15 584.67,206.83 595.00,206.90 C605.33,206.97 612.83,207.27 622.00,207.60 C631.17,207.93 640.83,208.53 650.00,208.90 C659.17,209.27 670.33,209.55 677.00,209.80 C683.67,210.05 686.83,210.18 690.00,210.40 C693.17,210.62 694.42,210.85 696.00,211.10 C697.58,211.35 698.92,211.77 699.50,211.90" fill="none" stroke="#e01c1c" stroke-width="1.2" stroke-linejoin="round" stroke-linecap="round"/>
<path d="M497.00,210.50 C497.25,210.02 497.92,208.22 498.50,207.60 C499.08,206.98 499.75,206.77 500.50,206.80 C501.25,206.83 502.08,207.55 503.00,207.80 C503.92,208.05 504.83,208.37 506.00,208.30 C507.17,208.23 507.67,207.53 510.00,207.40 C512.33,207.27 511.67,207.48 520.00,207.50 C528.33,207.52 547.50,207.55 560.00,207.50 C572.50,207.45 584.67,207.13 595.00,207.20 C605.33,207.27 612.83,207.57 622.00,207.90 C631.17,208.23 640.83,208.83 650.00,209.20 C659.17,209.57 670.33,209.85 677.00,210.10 C683.67,210.35 686.83,210.48 690.00,210.70 C693.17,210.92 694.42,211.15 696.00,211.40 C697.58,211.65 698.92,212.07 699.50,212.20" fill="none" stroke="#1e1edc" stroke-width="1.6" stroke-linejoin="round" stroke-linecap="round"/>
<path d="M497.00,271.20 C497.25,271.50 497.83,272.60 498.50,273.00 C499.17,273.40 500.08,273.63 501.00,273.60 C501.92,273.57 502.83,272.85 504.00,272.80 C505.17,272.75 505.33,273.20 508.00,273.30 C510.67,273.40 511.33,273.38 520.00,273.40 C528.67,273.42 546.67,273.43 560.00,273.40 C573.33,273.37 588.33,273.23 600.00,273.20 C611.67,273.17 621.67,273.33 630.00,273.20 C638.33,273.07 643.33,272.68 650.00,272.40 C656.67,272.12 664.17,271.75 670.00,271.50 C675.83,271.25 681.17,271.10 685.00,270.90 C688.83,270.70 690.58,270.63 693.00,270.30 C695.42,269.97 698.42,269.13 699.50,268.90" fill="none" stroke="#22e022" stroke-width="1.6" stroke-linejoin="round" stroke-linecap="round"/>
<path d="M497.00,271.00 C497.25,271.30 497.83,272.40 498.50,272.80 C499.17,273.20 500.08,273.43 501.00,273.40 C501.92,273.37 502.83,272.65 504.00,272.60 C505.17,272.55 505.33,273.00 508.00,273.10 C510.67,273.20 511.33,273.18 520.00,273.20 C528.67,273.22 546.67,273.23 560.00,273.20 C573.33,273.17 588.33,273.15 600.00,273.00 C611.67,272.85 621.67,272.55 630.00,272.30 C638.33,272.05 643.33,271.78 650.00,271.50 C656.67,271.22 664.17,270.85 670.00,270.60 C675.83,270.35 681.17,270.20 685.00,270.00 C688.83,269.80 690.58,269.73 693.00,269.40 C695.42,269.07 698.42,268.23 699.50,268.00" fill="none" stroke="#1e1edc" stroke-width="1.6" stroke-linejoin="round" stroke-linecap="round"/>
<path d="M497.00,284.30 C497.33,283.95 498.17,282.78 499.00,282.20 C499.83,281.62 500.83,281.10 502.00,280.80 C503.17,280.50 503.83,280.48 506.00,280.40 C508.17,280.32 511.00,280.30 515.00,280.30 C519.00,280.30 524.17,280.38 530.00,280.40 C535.83,280.42 543.33,280.33 550.00,280.40 C556.67,280.47 564.17,280.60 570.00,280.80 C575.83,281.00 580.83,281.33 585.00,281.60 C589.17,281.87 590.83,282.10 595.00,282.40 C599.17,282.70 605.33,282.95 610.00,283.40 C614.67,283.85 618.50,284.48 623.00,285.10 C627.50,285.72 632.50,286.42 637.00,287.10 C641.50,287.78 645.50,288.53 650.00,289.20 C654.50,289.87 659.33,290.50 664.00,291.10 C668.67,291.70 674.00,292.25 678.00,292.80 C682.00,293.35 685.25,293.93 688.00,294.40 C690.75,294.87 693.42,295.40 694.50,295.60" fill="none" stroke="#e01c1c" stroke-width="1.6" stroke-linejoin="round" stroke-linecap="round"/>
<path d="M497.00,284.50 C497.33,284.15 498.17,282.98 499.00,282.40 C499.83,281.82 500.83,281.30 502.00,281.00 C503.17,280.70 503.83,280.68 506.00,280.60 C508.17,280.52 511.00,280.50 515.00,280.50 C519.00,280.50 524.17,280.58 530.00,280.60 C535.83,280.62 543.33,280.53 550.00,280.60 C556.67,280.67 564.17,280.80 570.00,281.00 C575.83,281.20 580.83,281.53 585.00,281.80 C589.17,282.07 590.83,282.20 595.00,282.60 C599.17,283.00 605.33,283.65 610.00,284.20 C614.67,284.75 618.50,285.28 623.00,285.90 C627.50,286.52 632.50,287.22 637.00,287.90 C641.50,288.58 645.50,289.33 650.00,290.00 C654.50,290.67 659.33,291.30 664.00,291.90 C668.67,292.50 674.00,293.05 678.00,293.60 C682.00,294.15 685.25,294.73 688.00,295.20 C690.75,295.67 693.42,296.20 694.50,296.40" fill="none" stroke="#22e022" stroke-width="1.9" stroke-linejoin="round" stroke-linecap="round"/>
<path d="M497.00,342.30 C497.33,342.72 498.17,344.13 499.00,344.80 C499.83,345.47 500.83,345.97 502.00,346.30 C503.17,346.63 503.00,346.75 506.00,346.80 C509.00,346.85 514.33,346.60 520.00,346.60 C525.67,346.60 534.17,346.77 540.00,346.80 C545.83,346.83 550.00,346.90 555.00,346.80 C560.00,346.70 565.00,346.50 570.00,346.20 C575.00,345.90 580.83,345.43 585.00,345.00 C589.17,344.57 590.83,344.25 595.00,343.60 C599.17,342.95 605.33,341.85 610.00,341.10 C614.67,340.35 618.50,339.73 623.00,339.10 C627.50,338.47 632.50,337.90 637.00,337.30 C641.50,336.70 645.50,336.13 650.00,335.50 C654.50,334.87 659.33,334.18 664.00,333.50 C668.67,332.82 674.00,332.00 678.00,331.40 C682.00,330.80 685.25,330.32 688.00,329.90 C690.75,329.48 693.42,329.07 694.50,328.90" fill="none" stroke="#e01c1c" stroke-width="1.5" stroke-linejoin="round" stroke-linecap="round"/>
<path d="M497.00,342.50 C497.33,342.92 498.17,344.33 499.00,345.00 C499.83,345.67 500.83,346.17 502.00,346.50 C503.17,346.83 503.00,346.95 506.00,347.00 C509.00,347.05 514.33,346.80 520.00,346.80 C525.67,346.80 534.17,346.97 540.00,347.00 C545.83,347.03 550.00,347.10 555.00,347.00 C560.00,346.90 565.00,346.70 570.00,346.40 C575.00,346.10 580.83,345.63 585.00,345.20 C589.17,344.77 590.83,344.40 595.00,343.80 C599.17,343.20 605.33,342.30 610.00,341.60 C614.67,340.90 618.50,340.23 623.00,339.60 C627.50,338.97 632.50,338.40 637.00,337.80 C641.50,337.20 645.50,336.63 650.00,336.00 C654.50,335.37 659.33,334.68 664.00,334.00 C668.67,333.32 674.00,332.50 678.00,331.90 C682.00,331.30 685.25,330.82 688.00,330.40 C690.75,329.98 693.42,329.57 694.50,329.40" fill="none" stroke="#22e022" stroke-width="1.9" stroke-linejoin="round" stroke-linecap="round"/>
<path d="M694.50,296.20 L696.00,297.20 L697.00,292.50 L697.80,301.00 L698.50,289.00 L699.10,306.00 L699.50,297.00" fill="none" stroke="#e01c1c" stroke-width="1.0" stroke-linejoin="round" stroke-linecap="round"/>
<path d="M694.50,296.40 L696.00,298.00 L697.00,295.00 L697.90,305.00 L698.60,300.00 L699.20,311.00" fill="none" stroke="#22e022" stroke-width="1.4" stroke-linejoin="round" stroke-linecap="round"/>
<path d="M694.50,329.40 L696.00,328.60 L696.90,332.50 L697.70,323.00 L698.40,336.00 L699.00,319.00 L699.50,341.00" fill="none" stroke="#e01c1c" stroke-width="1.0" stroke-linejoin="round" stroke-linecap="round"/>
<path d="M694.50,329.40 L696.00,328.00 L697.00,330.00 L697.80,321.00 L698.50,325.00 L699.20,315.00" fill="none" stroke="#22e022" stroke-width="1.4" stroke-linejoin="round" stroke-linecap="round"/>
<circle cx="549.5" cy="346.3" r="0.8" fill="#a05a1c"/>
<circle cx="549.5" cy="280.9" r="0.7" fill="#a05a1c"/>
<line x1="516.58" y1="277" x2="516.58" y2="275.4" stroke="#8e8e8e" stroke-width="0.7"/>
<line x1="545.95" y1="277" x2="545.95" y2="275.4" stroke="#8e8e8e" stroke-width="0.7"/>
<line x1="575.32" y1="277" x2="575.32" y2="275.4" stroke="#8e8e8e" stroke-width="0.7"/>
<line x1="604.69" y1="277" x2="604.69" y2="275.4" stroke="#8e8e8e" stroke-width="0.7"/>
<line x1="634.06" y1="277" x2="634.06" y2="275.4" stroke="#8e8e8e" stroke-width="0.7"/>
<line x1="663.43" y1="277" x2="663.43" y2="275.4" stroke="#8e8e8e" stroke-width="0.7"/>
<line x1="692.80" y1="277" x2="692.80" y2="275.4" stroke="#8e8e8e" stroke-width="0.7"/>
<line x1="516.58" y1="350" x2="516.58" y2="348.4" stroke="#8e8e8e" stroke-width="0.7"/>
<line x1="545.95" y1="350" x2="545.95" y2="348.4" stroke="#8e8e8e" stroke-width="0.7"/>
<line x1="575.32" y1="350" x2="575.32" y2="348.4" stroke="#8e8e8e" stroke-width="0.7"/>
<line x1="604.69" y1="350" x2="604.69" y2="348.4" stroke="#8e8e8e" stroke-width="0.7"/>
<line x1="634.06" y1="350" x2="634.06" y2="348.4" stroke="#8e8e8e" stroke-width="0.7"/>
<line x1="663.43" y1="350" x2="663.43" y2="348.4" stroke="#8e8e8e" stroke-width="0.7"/>
<line x1="692.80" y1="350" x2="692.80" y2="348.4" stroke="#8e8e8e" stroke-width="0.7"/>
<text x="494" y="211.7" font-size="12.3" font-weight="bold" text-anchor="end" fill="#181818">100</text>
<text x="494" y="244.8" font-size="12.3" font-weight="bold" text-anchor="end" fill="#181818">50</text>
<text x="494" y="278.3" font-size="12.3" font-weight="bold" text-anchor="end" fill="#181818">0</text>
<text x="494" y="284.3" font-size="12.3" font-weight="bold" text-anchor="end" fill="#181818">100</text>
<text x="494" y="317.5" font-size="12.3" font-weight="bold" text-anchor="end" fill="#181818">50</text>
<text x="494" y="350.8" font-size="12.3" font-weight="bold" text-anchor="end" fill="#181818">0</text>
<text x="516.2800000000001" y="362" font-size="12.8" font-weight="bold" text-anchor="middle" fill="#181818">0.6</text>
<text x="575.02" y="362" font-size="12.8" font-weight="bold" text-anchor="middle" fill="#181818">1.2</text>
<text x="633.76" y="362" font-size="12.8" font-weight="bold" text-anchor="middle" fill="#181818">1.8</text>
<text x="692.5" y="362" font-size="12.8" font-weight="bold" text-anchor="middle" fill="#181818">2.4</text>
<ellipse cx="520" cy="209.3" rx="3.9" ry="5.6" fill="none" stroke="#111" stroke-width="1.3"/>
<text x="524" y="220" font-size="14.5" font-weight="bold" font-style="italic" fill="#151515">A</text>
<ellipse cx="520" cy="283.8" rx="3.9" ry="5.6" fill="none" stroke="#111" stroke-width="1.3"/>
<text x="523.5" y="293.5" font-size="14.5" font-weight="bold" font-style="italic" fill="#151515">A</text>
<ellipse cx="672.8" cy="268.3" rx="3.9" ry="5.8" fill="none" stroke="#111" stroke-width="1.3"/>
<text x="678.5" y="263.8" font-size="14.5" font-weight="bold" font-style="italic" fill="#151515">R</text>
<ellipse cx="672.8" cy="333" rx="3.9" ry="5.8" fill="none" stroke="#111" stroke-width="1.3"/>
<text x="675" y="325" font-size="14.5" font-weight="bold" font-style="italic" fill="#151515">R</text>
<text x="0" y="0" font-size="14.2" font-weight="bold" fill="#151515" transform="translate(628.0,233) scale(1.03,1)">Sim.</text>
<text x="0" y="0" font-size="14.2" font-weight="bold" fill="#151515" transform="translate(628.5,308) scale(1.03,1)">Exp.</text>
<text transform="translate(469.5,280) rotate(-90)" font-size="15.8" font-weight="bold" text-anchor="middle" fill="#151515"><tspan font-style="italic">A</tspan> / <tspan font-style="italic">R</tspan> (%)</text>
<line x1="724.2" y1="218.4" x2="740.3" y2="218.4" stroke="#e01c1c" stroke-width="1.5"/>
<text x="0" y="0" font-size="14.1" font-weight="bold" fill="#151515" transform="translate(743.8,221.9) scale(1.02,1)">98.14</text>
<line x1="724.2" y1="240.4" x2="740.3" y2="240.4" stroke="#1e1edc" stroke-width="1.5"/>
<text x="0" y="0" font-size="14.1" font-weight="bold" fill="#151515" transform="translate(743.8,243.9) scale(1.02,1)">97.72</text>
<line x1="724.2" y1="261.4" x2="740.3" y2="261.4" stroke="#22e022" stroke-width="1.5"/>
<text x="0" y="0" font-size="14.1" font-weight="bold" fill="#151515" transform="translate(743.8,264.9) scale(1.02,1)">98.16</text>
<line x1="724.2" y1="305.4" x2="740.3" y2="305.4" stroke="#e01c1c" stroke-width="1.5"/>
<text x="0" y="0" font-size="14.1" font-weight="bold" fill="#151515" transform="translate(743.8,308.9) scale(1.02,1)">92.41</text>
<line x1="724.2" y1="326.7" x2="740.3" y2="326.7" stroke="#22e022" stroke-width="1.5"/>
<text x="0" y="0" font-size="14.1" font-weight="bold" fill="#151515" transform="translate(743.8,330.2) scale(1.02,1)">92.22</text>
<rect x="495.8" y="372.5" width="202.7" height="181.70000000000005" fill="none" stroke="#8e8e8e" stroke-width="0.9"/>
<line x1="495.8" y1="463" x2="698.5" y2="463" stroke="#8e8e8e" stroke-width="0.9"/>
<path d="M497.50,377.70 C497.75,377.87 498.45,377.78 499.00,378.70 C499.55,379.62 500.13,383.00 500.80,383.20 C501.47,383.40 502.13,380.62 503.00,379.90 C503.87,379.18 504.83,379.17 506.00,378.90 C507.17,378.63 508.67,378.48 510.00,378.30 C511.33,378.12 513.10,377.73 514.00,377.80 C514.90,377.87 514.97,377.38 515.40,378.70 C515.83,380.02 516.25,383.70 516.60,385.70 C516.95,387.70 517.22,390.87 517.50,390.70 C517.78,390.53 517.88,386.28 518.30,384.70 C518.72,383.12 519.22,381.43 520.00,381.20 C520.78,380.97 521.53,382.13 523.00,383.30 C524.47,384.47 526.97,387.92 528.80,388.20 C530.63,388.48 531.92,386.23 534.00,385.00 C536.08,383.77 538.97,380.97 541.30,380.80 C543.63,380.63 546.05,382.87 548.00,384.00 C549.95,385.13 551.20,386.47 553.00,387.60 C554.80,388.73 556.80,390.57 558.80,390.80 C560.80,391.03 563.13,389.83 565.00,389.00 C566.87,388.17 568.33,386.85 570.00,385.80 C571.67,384.75 573.12,383.58 575.00,382.70 C576.88,381.82 579.47,380.82 581.30,380.50 C583.13,380.18 584.75,380.55 586.00,380.80 C587.25,381.05 587.47,381.30 588.80,382.00 C590.13,382.70 592.13,384.20 594.00,385.00 C595.87,385.80 597.67,386.37 600.00,386.80 C602.33,387.23 605.08,387.48 608.00,387.60 C610.92,387.72 613.83,387.60 617.50,387.50 C621.17,387.40 625.42,387.33 630.00,387.00 C634.58,386.67 640.17,385.95 645.00,385.50 C649.83,385.05 655.17,384.42 659.00,384.30 C662.83,384.18 665.17,384.47 668.00,384.80 C670.83,385.13 673.33,385.65 676.00,386.30 C678.67,386.95 681.50,387.92 684.00,388.70 C686.50,389.48 688.67,390.15 691.00,391.00 C693.33,391.85 696.83,393.33 698.00,393.80" fill="none" stroke="#22e022" stroke-width="1.5" stroke-linejoin="round" stroke-linecap="round"/>
<path d="M496.20,393.00 C496.30,390.83 496.58,382.67 496.80,380.00 C497.02,377.33 497.13,377.33 497.50,377.00 C497.87,376.67 498.45,377.08 499.00,378.00 C499.55,378.92 500.13,382.30 500.80,382.50 C501.47,382.70 502.13,379.92 503.00,379.20 C503.87,378.48 504.83,378.47 506.00,378.20 C507.17,377.93 508.67,377.78 510.00,377.60 C511.33,377.42 513.10,377.03 514.00,377.10 C514.90,377.17 514.97,376.68 515.40,378.00 C515.83,379.32 516.25,383.00 516.60,385.00 C516.95,387.00 517.22,390.17 517.50,390.00 C517.78,389.83 517.88,385.58 518.30,384.00 C518.72,382.42 519.22,380.73 520.00,380.50 C520.78,380.27 521.53,381.43 523.00,382.60 C524.47,383.77 526.97,387.22 528.80,387.50 C530.63,387.78 531.92,385.42 534.00,384.30 C536.08,383.18 538.97,380.85 541.30,380.80 C543.63,380.75 546.05,382.87 548.00,384.00 C549.95,385.13 551.20,386.47 553.00,387.60 C554.80,388.73 556.80,390.57 558.80,390.80 C560.80,391.03 563.13,389.83 565.00,389.00 C566.87,388.17 568.33,386.85 570.00,385.80 C571.67,384.75 573.12,383.58 575.00,382.70 C576.88,381.82 579.47,380.82 581.30,380.50 C583.13,380.18 584.75,380.55 586.00,380.80 C587.25,381.05 587.47,381.30 588.80,382.00 C590.13,382.70 592.13,384.20 594.00,385.00 C595.87,385.80 597.67,386.37 600.00,386.80 C602.33,387.23 605.08,387.48 608.00,387.60 C610.92,387.72 613.83,387.60 617.50,387.50 C621.17,387.40 625.42,387.33 630.00,387.00 C634.58,386.67 640.17,385.95 645.00,385.50 C649.83,385.05 655.17,384.42 659.00,384.30 C662.83,384.18 665.17,384.47 668.00,384.80 C670.83,385.13 673.33,385.65 676.00,386.30 C678.67,386.95 681.50,387.92 684.00,388.70 C686.50,389.48 688.67,390.15 691.00,391.00 C693.33,391.85 696.83,393.33 698.00,393.80" fill="none" stroke="#1e1edc" stroke-width="1.7" stroke-linejoin="round" stroke-linecap="round"/>
<path d="M497.50,457.90 C497.75,457.73 498.45,457.82 499.00,456.90 C499.55,455.98 500.13,452.60 500.80,452.40 C501.47,452.20 502.13,454.98 503.00,455.70 C503.87,456.42 504.83,456.43 506.00,456.70 C507.17,456.97 508.67,457.12 510.00,457.30 C511.33,457.48 513.10,457.87 514.00,457.80 C514.90,457.73 514.97,458.22 515.40,456.90 C515.83,455.58 516.25,451.90 516.60,449.90 C516.95,447.90 517.22,444.73 517.50,444.90 C517.78,445.07 517.88,449.32 518.30,450.90 C518.72,452.48 519.22,454.17 520.00,454.40 C520.78,454.63 521.53,453.47 523.00,452.30 C524.47,451.13 526.97,447.68 528.80,447.40 C530.63,447.12 531.92,449.35 534.00,450.60 C536.08,451.85 538.97,454.72 541.30,454.90 C543.63,455.08 546.05,452.83 548.00,451.70 C549.95,450.57 551.20,449.23 553.00,448.10 C554.80,446.97 556.80,445.13 558.80,444.90 C560.80,444.67 563.13,445.87 565.00,446.70 C566.87,447.53 568.33,448.85 570.00,449.90 C571.67,450.95 573.12,452.12 575.00,453.00 C576.88,453.88 579.47,454.88 581.30,455.20 C583.13,455.52 584.75,455.15 586.00,454.90 C587.25,454.65 587.47,454.40 588.80,453.70 C590.13,453.00 592.13,451.50 594.00,450.70 C595.87,449.90 597.67,449.33 600.00,448.90 C602.33,448.47 605.08,448.22 608.00,448.10 C610.92,447.98 613.83,448.10 617.50,448.20 C621.17,448.30 625.42,448.37 630.00,448.70 C634.58,449.03 640.17,449.75 645.00,450.20 C649.83,450.65 655.17,451.28 659.00,451.40 C662.83,451.52 665.17,451.23 668.00,450.90 C670.83,450.57 673.33,450.05 676.00,449.40 C678.67,448.75 681.50,447.78 684.00,447.00 C686.50,446.22 688.67,445.55 691.00,444.70 C693.33,443.85 696.83,442.37 698.00,441.90" fill="none" stroke="#22e022" stroke-width="1.5" stroke-linejoin="round" stroke-linecap="round"/>
<path d="M496.20,441.00 C496.30,442.83 496.58,449.05 496.80,452.00 C497.02,454.95 497.13,457.75 497.50,458.70 C497.87,459.65 498.45,458.62 499.00,457.70 C499.55,456.78 500.13,453.40 500.80,453.20 C501.47,453.00 502.13,455.78 503.00,456.50 C503.87,457.22 504.83,457.23 506.00,457.50 C507.17,457.77 508.67,457.92 510.00,458.10 C511.33,458.28 513.10,458.67 514.00,458.60 C514.90,458.53 514.97,459.02 515.40,457.70 C515.83,456.38 516.25,452.70 516.60,450.70 C516.95,448.70 517.22,445.53 517.50,445.70 C517.78,445.87 517.88,450.12 518.30,451.70 C518.72,453.28 519.22,454.97 520.00,455.20 C520.78,455.43 521.53,454.27 523.00,453.10 C524.47,451.93 526.97,448.48 528.80,448.20 C530.63,447.92 531.92,450.28 534.00,451.40 C536.08,452.52 538.97,454.85 541.30,454.90 C543.63,454.95 546.05,452.83 548.00,451.70 C549.95,450.57 551.20,449.23 553.00,448.10 C554.80,446.97 556.80,445.13 558.80,444.90 C560.80,444.67 563.13,445.87 565.00,446.70 C566.87,447.53 568.33,448.85 570.00,449.90 C571.67,450.95 573.12,452.12 575.00,453.00 C576.88,453.88 579.47,454.88 581.30,455.20 C583.13,455.52 584.75,455.15 586.00,454.90 C587.25,454.65 587.47,454.40 588.80,453.70 C590.13,453.00 592.13,451.50 594.00,450.70 C595.87,449.90 597.67,449.33 600.00,448.90 C602.33,448.47 605.08,448.22 608.00,448.10 C610.92,447.98 613.83,448.10 617.50,448.20 C621.17,448.30 625.42,448.37 630.00,448.70 C634.58,449.03 640.17,449.75 645.00,450.20 C649.83,450.65 655.17,451.28 659.00,451.40 C662.83,451.52 665.17,451.23 668.00,450.90 C670.83,450.57 673.33,450.05 676.00,449.40 C678.67,448.75 681.50,447.78 684.00,447.00 C686.50,446.22 688.67,445.55 691.00,444.70 C693.33,443.85 696.83,442.37 698.00,441.90" fill="none" stroke="#1e1edc" stroke-width="1.7" stroke-linejoin="round" stroke-linecap="round"/>
<path d="M496.00,477.00 C496.42,477.83 497.62,480.53 498.50,482.00 C499.38,483.47 500.38,485.42 501.30,485.80 C502.22,486.18 503.05,485.27 504.00,484.30 C504.95,483.33 506.00,481.08 507.00,480.00 C508.00,478.92 509.00,478.33 510.00,477.80 C511.00,477.27 512.00,477.52 513.00,476.80 C514.00,476.08 515.00,474.63 516.00,473.50 C517.00,472.37 518.00,470.78 519.00,470.00 C520.00,469.22 521.00,468.83 522.00,468.80 C523.00,468.77 524.00,469.10 525.00,469.80 C526.00,470.50 527.00,471.63 528.00,473.00 C529.00,474.37 529.67,475.83 531.00,478.00 C532.33,480.17 534.58,484.00 536.00,486.00 C537.42,488.00 538.62,489.12 539.50,490.00 C540.38,490.88 540.72,491.30 541.30,491.30 C541.88,491.30 542.47,489.95 543.00,490.00 C543.53,490.05 544.00,491.68 544.50,491.60 C545.00,491.52 545.53,489.68 546.00,489.50 C546.47,489.32 546.88,490.92 547.30,490.50 C547.72,490.08 547.88,488.08 548.50,487.00 C549.12,485.92 549.92,485.30 551.00,484.00 C552.08,482.70 553.70,480.28 555.00,479.20 C556.30,478.12 557.47,477.53 558.80,477.50 C560.13,477.47 561.63,478.00 563.00,479.00 C564.37,480.00 565.83,482.00 567.00,483.50 C568.17,485.00 568.83,486.42 570.00,488.00 C571.17,489.58 572.67,491.33 574.00,493.00 C575.33,494.67 576.67,496.45 578.00,498.00 C579.33,499.55 580.83,501.05 582.00,502.30 C583.17,503.55 583.87,504.55 585.00,505.50 C586.13,506.45 587.80,508.00 588.80,508.00 C589.80,508.00 590.13,507.33 591.00,505.50 C591.87,503.67 593.00,499.92 594.00,497.00 C595.00,494.08 596.00,490.67 597.00,488.00 C598.00,485.33 599.00,482.87 600.00,481.00 C601.00,479.13 601.92,477.80 603.00,476.80 C604.08,475.80 605.33,475.03 606.50,475.00 C607.67,474.97 608.92,475.85 610.00,476.60 C611.08,477.35 611.83,478.18 613.00,479.50 C614.17,480.82 615.83,483.17 617.00,484.50 C618.17,485.83 618.83,486.37 620.00,487.50 C621.17,488.63 622.67,490.13 624.00,491.30 C625.33,492.47 626.67,493.38 628.00,494.50 C629.33,495.62 630.67,496.75 632.00,498.00 C633.33,499.25 634.67,500.58 636.00,502.00 C637.33,503.42 638.67,505.25 640.00,506.50 C641.33,507.75 642.70,508.83 644.00,509.50 C645.30,510.17 646.47,510.50 647.80,510.50 C649.13,510.50 650.63,510.42 652.00,509.50 C653.37,508.58 654.67,506.92 656.00,505.00 C657.33,503.08 658.67,500.42 660.00,498.00 C661.33,495.58 662.67,492.92 664.00,490.50 C665.33,488.08 666.67,485.50 668.00,483.50 C669.33,481.50 670.67,479.88 672.00,478.50 C673.33,477.12 674.67,476.12 676.00,475.20 C677.33,474.28 678.67,473.57 680.00,473.00 C681.33,472.43 682.67,472.08 684.00,471.80 C685.33,471.52 686.50,471.30 688.00,471.30 C689.50,471.30 691.33,471.52 693.00,471.80 C694.67,472.08 697.17,472.80 698.00,473.00" fill="none" stroke="#1e1edc" stroke-width="2.0" stroke-linejoin="round" stroke-linecap="round"/>
<path d="M539.00,489.50 L540.00,492.50 L541.00,490.00 L542.00,493.00 L543.00,490.50 L544.00,492.60 L545.00,490.00 L546.00,491.80 L547.00,488.50 L547.80,491.00 L548.40,486.50" fill="none" stroke="#1e1edc" stroke-width="1.1" stroke-linejoin="round" stroke-linecap="round"/>
<path d="M496.00,540.50 C496.33,539.58 497.25,536.42 498.00,535.00 C498.75,533.58 499.67,532.08 500.50,532.00 C501.33,531.92 502.17,533.42 503.00,534.50 C503.83,535.58 504.75,537.50 505.50,538.50 C506.25,539.50 506.67,540.42 507.50,540.50 C508.33,540.58 509.45,539.37 510.50,539.00 C511.55,538.63 512.72,537.80 513.80,538.30 C514.88,538.80 515.97,540.63 517.00,542.00 C518.03,543.37 519.00,545.37 520.00,546.50 C521.00,547.63 522.00,548.72 523.00,548.80 C524.00,548.88 524.67,548.47 526.00,547.00 C527.33,545.53 529.33,542.50 531.00,540.00 C532.67,537.50 534.28,534.25 536.00,532.00 C537.72,529.75 539.63,527.17 541.30,526.50 C542.97,525.83 544.38,526.83 546.00,528.00 C547.62,529.17 549.50,531.75 551.00,533.50 C552.50,535.25 553.70,537.42 555.00,538.50 C556.30,539.58 557.47,540.00 558.80,540.00 C560.13,540.00 561.13,540.25 563.00,538.50 C564.87,536.75 567.50,532.67 570.00,529.50 C572.50,526.33 575.50,522.42 578.00,519.50 C580.50,516.58 583.20,513.75 585.00,512.00 C586.80,510.25 587.63,508.58 588.80,509.00 C589.97,509.42 590.63,511.08 592.00,514.50 C593.37,517.92 595.33,525.33 597.00,529.50 C598.67,533.67 600.45,537.28 602.00,539.50 C603.55,541.72 604.80,542.72 606.30,542.80 C607.80,542.88 609.22,541.63 611.00,540.00 C612.78,538.37 614.83,535.28 617.00,533.00 C619.17,530.72 621.50,528.55 624.00,526.30 C626.50,524.05 629.33,522.05 632.00,519.50 C634.67,516.95 637.37,513.12 640.00,511.00 C642.63,508.88 645.47,507.05 647.80,506.80 C650.13,506.55 651.97,507.38 654.00,509.50 C656.03,511.62 657.83,516.25 660.00,519.50 C662.17,522.75 665.00,526.42 667.00,529.00 C669.00,531.58 670.42,533.37 672.00,535.00 C673.58,536.63 675.00,537.47 676.50,538.80 C678.00,540.13 679.42,541.88 681.00,543.00 C682.58,544.12 684.17,545.00 686.00,545.50 C687.83,546.00 690.00,546.00 692.00,546.00 C694.00,546.00 697.00,545.58 698.00,545.50" fill="none" stroke="#1e1edc" stroke-width="1.5" stroke-linejoin="round" stroke-linecap="round" stroke-dasharray="0.1 3.1"/>
<line x1="511.43" y1="463" x2="511.43" y2="461.4" stroke="#8e8e8e" stroke-width="0.7"/>
<line x1="526.86" y1="463" x2="526.86" y2="461.4" stroke="#8e8e8e" stroke-width="0.7"/>
<line x1="542.29" y1="463" x2="542.29" y2="461.4" stroke="#8e8e8e" stroke-width="0.7"/>
<line x1="557.72" y1="463" x2="557.72" y2="461.4" stroke="#8e8e8e" stroke-width="0.7"/>
<line x1="573.15" y1="463" x2="573.15" y2="461.4" stroke="#8e8e8e" stroke-width="0.7"/>
<line x1="588.58" y1="463" x2="588.58" y2="461.4" stroke="#8e8e8e" stroke-width="0.7"/>
<line x1="604.01" y1="463" x2="604.01" y2="461.4" stroke="#8e8e8e" stroke-width="0.7"/>
<line x1="619.44" y1="463" x2="619.44" y2="461.4" stroke="#8e8e8e" stroke-width="0.7"/>
<line x1="634.87" y1="463" x2="634.87" y2="461.4" stroke="#8e8e8e" stroke-width="0.7"/>
<line x1="650.30" y1="463" x2="650.30" y2="461.4" stroke="#8e8e8e" stroke-width="0.7"/>
<line x1="665.73" y1="463" x2="665.73" y2="461.4" stroke="#8e8e8e" stroke-width="0.7"/>
<line x1="681.16" y1="463" x2="681.16" y2="461.4" stroke="#8e8e8e" stroke-width="0.7"/>
<line x1="696.59" y1="463" x2="696.59" y2="461.4" stroke="#8e8e8e" stroke-width="0.7"/>
<line x1="511.43" y1="554.2" x2="511.43" y2="552.6" stroke="#8e8e8e" stroke-width="0.7"/>
<line x1="526.86" y1="554.2" x2="526.86" y2="552.6" stroke="#8e8e8e" stroke-width="0.7"/>
<line x1="542.29" y1="554.2" x2="542.29" y2="552.6" stroke="#8e8e8e" stroke-width="0.7"/>
<line x1="557.72" y1="554.2" x2="557.72" y2="552.6" stroke="#8e8e8e" stroke-width="0.7"/>
<line x1="573.15" y1="554.2" x2="573.15" y2="552.6" stroke="#8e8e8e" stroke-width="0.7"/>
<line x1="588.58" y1="554.2" x2="588.58" y2="552.6" stroke="#8e8e8e" stroke-width="0.7"/>
<line x1="604.01" y1="554.2" x2="604.01" y2="552.6" stroke="#8e8e8e" stroke-width="0.7"/>
<line x1="619.44" y1="554.2" x2="619.44" y2="552.6" stroke="#8e8e8e" stroke-width="0.7"/>
<line x1="634.87" y1="554.2" x2="634.87" y2="552.6" stroke="#8e8e8e" stroke-width="0.7"/>
<line x1="650.30" y1="554.2" x2="650.30" y2="552.6" stroke="#8e8e8e" stroke-width="0.7"/>
<line x1="665.73" y1="554.2" x2="665.73" y2="552.6" stroke="#8e8e8e" stroke-width="0.7"/>
<line x1="681.16" y1="554.2" x2="681.16" y2="552.6" stroke="#8e8e8e" stroke-width="0.7"/>
<line x1="696.59" y1="554.2" x2="696.59" y2="552.6" stroke="#8e8e8e" stroke-width="0.7"/>
<text x="493.5" y="380.5" font-size="12.3" font-weight="bold" text-anchor="end" fill="#181818">100</text>
<text x="493.5" y="421.7" font-size="12.3" font-weight="bold" text-anchor="end" fill="#181818">50</text>
<text x="493.5" y="464.3" font-size="12.3" font-weight="bold" text-anchor="end" fill="#181818">0</text>
<text x="493.5" y="471.8" font-size="12.3" font-weight="bold" text-anchor="end" fill="#181818">100</text>
<text x="493.5" y="513" font-size="12.3" font-weight="bold" text-anchor="end" fill="#181818">50</text>
<text x="493.5" y="554.3" font-size="12.3" font-weight="bold" text-anchor="end" fill="#181818">0</text>
<text x="496.2" y="566.2" font-size="12.8" font-weight="bold" text-anchor="middle" fill="#181818">3</text>
<text x="542.49" y="566.2" font-size="12.8" font-weight="bold" text-anchor="middle" fill="#181818">6</text>
<text x="588.7800000000001" y="566.2" font-size="12.8" font-weight="bold" text-anchor="middle" fill="#181818">9</text>
<text x="635.07" y="566.2" font-size="12.8" font-weight="bold" text-anchor="middle" fill="#181818">12</text>
<text x="681.36" y="566.2" font-size="12.8" font-weight="bold" text-anchor="middle" fill="#181818">15</text>
<ellipse cx="525.6" cy="383.8" rx="4.1" ry="7.2" fill="none" stroke="#111" stroke-width="1.3"/>
<text x="523.6" y="403" font-size="14.5" font-weight="bold" font-style="italic" fill="#151515">A</text>
<ellipse cx="509.8" cy="478.7" rx="4.1" ry="7.2" fill="none" stroke="#111" stroke-width="1.3"/>
<text x="514" y="490" font-size="14.5" font-weight="bold" font-style="italic" fill="#151515">A</text>
<ellipse cx="666.8" cy="449.2" rx="4.1" ry="7.2" fill="none" stroke="#111" stroke-width="1.3"/>
<text x="671.5" y="441.8" font-size="14.5" font-weight="bold" font-style="italic" fill="#151515">R</text>
<ellipse cx="677" cy="537.3" rx="4.1" ry="7.2" fill="none" stroke="#111" stroke-width="1.3"/>
<text x="681.5" y="533" font-size="14.5" font-weight="bold" font-style="italic" fill="#151515">R</text>
<text x="0" y="0" font-size="14.2" font-weight="bold" fill="#151515" transform="translate(628.5,410) scale(1.03,1)">Sim.</text>
<text x="0" y="0" font-size="14.2" font-weight="bold" fill="#151515" transform="translate(629.0,483) scale(1.03,1)">Exp.</text>
<text transform="translate(469.5,467.5) rotate(-90)" font-size="15.8" font-weight="bold" text-anchor="middle" fill="#151515"><tspan font-style="italic">A</tspan> / <tspan font-style="italic">R</tspan> (%)</text>
<text x="575" y="580" font-size="16.2" font-weight="bold" fill="#151515">λ (µm)</text>
<line x1="724.2" y1="392.2" x2="740.3" y2="392.2" stroke="#e01c1c" stroke-width="1.5"/>
<text x="0" y="0" font-size="14.1" font-weight="bold" fill="#151515" transform="translate(743.8,395.7) scale(1.02,1)">89.59</text>
<line x1="724.2" y1="421.4" x2="740.3" y2="421.4" stroke="#1e1edc" stroke-width="1.5"/>
<text x="0" y="0" font-size="14.1" font-weight="bold" fill="#151515" transform="translate(743.8,424.9) scale(1.02,1)">89.72</text>
<line x1="724.2" y1="446.4" x2="740.3" y2="446.4" stroke="#22e022" stroke-width="1.5"/>
<text x="0" y="0" font-size="14.1" font-weight="bold" fill="#151515" transform="translate(743.8,449.9) scale(1.02,1)">89.58</text>
<line x1="724.2" y1="506.9" x2="740.3" y2="506.9" stroke="#1e1edc" stroke-width="1.5"/>
<text x="0" y="0" font-size="14.1" font-weight="bold" fill="#151515" transform="translate(743.8,510.4) scale(1.02,1)">75.18</text>
</svg>
</div>
</body></html>
